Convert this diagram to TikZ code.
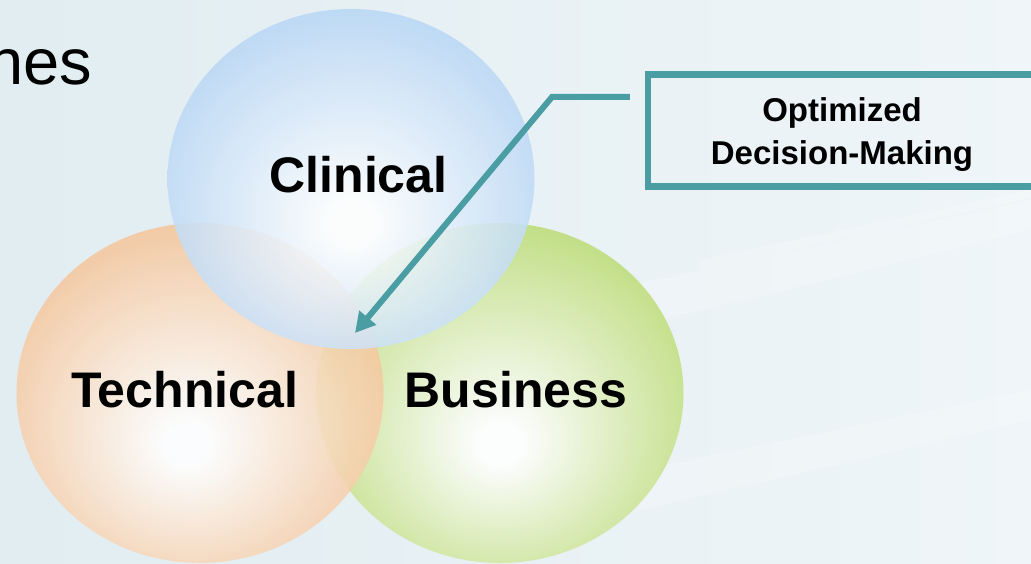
\documentclass[tikz,border=0pt]{standalone}
\usepackage{fontspec}
\setmainfont{Liberation Sans}
\usetikzlibrary{shapes.geometric,arrows.meta}
\definecolor{bgL}{HTML}{E1EDF1}
\definecolor{bgR}{HTML}{EFF5F8}
\definecolor{cblue}{HTML}{ADD0F3}
\definecolor{corange}{HTML}{F3BC8B}
\definecolor{cgreen}{HTML}{B3D762}
\definecolor{linkteal}{HTML}{4A9EA3}
\pgfdeclareradialshading{ballC}{\pgfpoint{0bp}{-7bp}}{color(0bp)=(white); color(3bp)=(white); color(32bp)=(cblue); color(50bp)=(cblue)}
\pgfdeclareradialshading{ballT}{\pgfpoint{-2bp}{-8bp}}{color(0bp)=(white); color(3bp)=(white); color(32bp)=(corange); color(50bp)=(corange)}
\pgfdeclareradialshading{ballB}{\pgfpoint{0bp}{-8bp}}{color(0bp)=(white); color(3bp)=(white); color(32bp)=(cgreen); color(50bp)=(cgreen)}
\tikzset{
  ball/.style={ellipse, draw=none, inner sep=0pt, minimum width=367pt, minimum height=340pt, fill opacity=0.87},
  lbl/.style={inner sep=0pt, font=\fontsize{50}{54}\selectfont\bfseries},
  optbox/.style={draw=linkteal, line width=6.5pt, minimum width=388pt, minimum height=112pt, inner sep=0pt, font=\fontsize{33}{43}\selectfont\bfseries},
  conn/.style={draw=linkteal, line width=6pt, line join=miter, -{Triangle[length=20pt,width=21pt]}},
  streak/.style={fill=white, opacity=0.22}
}
\begin{document}
\begin{tikzpicture}[x=1pt,y=-1pt]
\useasboundingbox (0,0) rectangle (1031,564);
\clip (0,0) rectangle (1031,564);
\fill[left color=bgL, right color=bgR] (0,0) rectangle (1031,564);
% faint diagonal streaks
\fill[streak] (560,300) -- (1031,200) -- (1031,230) -- (560,345) -- cycle;
\fill[streak] (640,470) -- (1031,390) -- (1031,420) -- (640,510) -- cycle;
\fill[streak] (700,260) -- (1031,190) -- (1031,198) -- (700,270) -- cycle;
% title fragment
\node[anchor=base east, inner sep=0pt, font=\fontsize{65}{70}\selectfont] (ttl) at (92,85) {nes};
% circles
\node[ball, shading=ballB] (bus) at (500,393) {};
\node[ball, shading=ballT] (tech) at (200,393) {};
\node[ball, shading=ballC] (clin) at (351,179) {};
% labels
\node[lbl] (clinT) at (358.5,175) {Clinical};
\node[lbl] (techT) at (184.5,390) {Technical};
\node[lbl] (busT) at (516,390) {Business};
% box
\node[optbox] (opt) at (842,130.5) {\raisebox{-10pt}[0pt][0pt]{\begin{tabular}{@{}c@{}}Optimized\\Decision-Making\end{tabular}}};
% connector
\coordinate (bend) at (552,97);
\coordinate (tip) at (355,333);
\draw[conn] ([xshift=-15pt]opt.west |- bend) -- (bend) -- (tip);
\end{tikzpicture}
\end{document}
